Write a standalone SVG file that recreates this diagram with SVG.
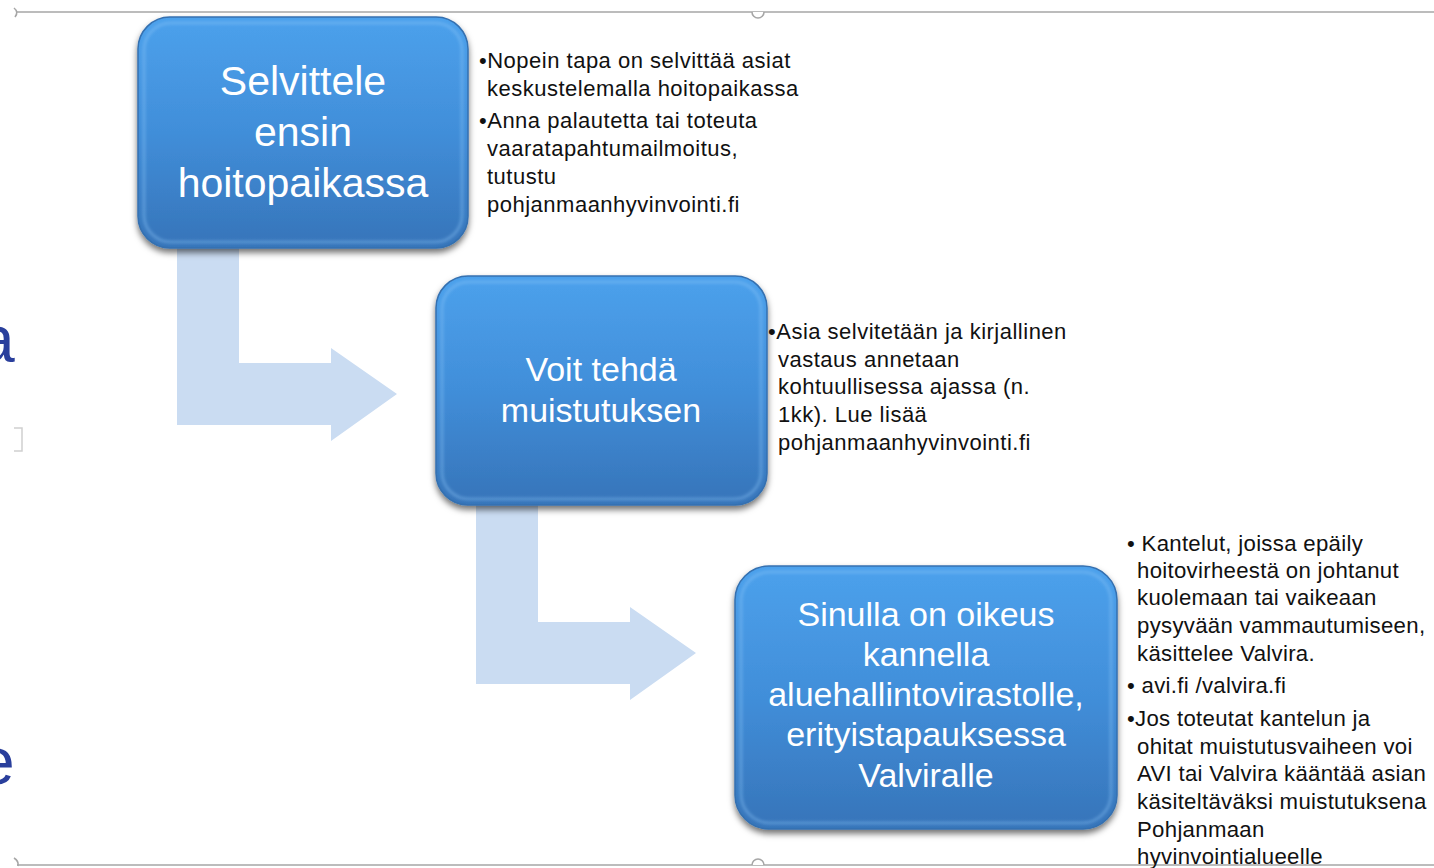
<svg xmlns="http://www.w3.org/2000/svg" width="1434" height="868" viewBox="0 0 1434 868">
<style>
.box{fill:url(#boxGrad);stroke:#3470b0;stroke-width:1.5}
.bevel{fill:none;stroke:#8cc6f7;stroke-opacity:0.4;stroke-width:3}
.btxt{font-family:"Liberation Sans",Arial,sans-serif;fill:#ffffff;text-anchor:middle}
.ntxt{font-family:"Liberation Sans",Arial,sans-serif;fill:#111111;font-size:22px;letter-spacing:0.5px}
.n3{font-size:22.2px;letter-spacing:0.3px}
.arrow{fill:#cadcf2}
.frame{stroke:#a6a6a6;stroke-width:1.6;fill:none}
.side{font-family:"Liberation Sans",Arial,sans-serif;fill:#2a3f9c;font-size:66px}
</style>
<defs>
<linearGradient id="boxGrad" x1="0" y1="0" x2="0" y2="1">
<stop offset="0" stop-color="#4ca1ec"/>
<stop offset="0.5" stop-color="#418ed9"/>
<stop offset="1" stop-color="#3674b9"/>
</linearGradient>
<filter id="shadow" x="-10%" y="-10%" width="120%" height="130%">
<feGaussianBlur in="SourceAlpha" stdDeviation="3"/>
<feOffset dy="4" result="b"/>
<feFlood flood-color="#000" flood-opacity="0.55"/>
<feComposite in2="b" operator="in"/>
<feMerge><feMergeNode/><feMergeNode in="SourceGraphic"/></feMerge>
</filter>
<filter id="soft"><feGaussianBlur stdDeviation="1.5"/></filter>
</defs>
<rect width="1434" height="868" fill="#ffffff"/>

<g id="frame">
<line class="frame" x1="17" y1="12" x2="1434" y2="12"/>
<path class="frame" d="M14 8 Q19 12 15 17"/>
<path d="M752 12 A6 6 0 0 0 764 12" fill="#fff" stroke="#a6a6a6" stroke-width="1.6"/>
<line class="frame" x1="17" y1="865" x2="1434" y2="865"/>
<path class="frame" d="M14 858 Q19 861 18 866"/>
<path d="M752 865 A6 6 0 0 1 764 865" fill="#fff" stroke="#a6a6a6" stroke-width="1.6"/>
<path d="M14 428 H22 V451 H14" fill="none" stroke="#d0d0d0" stroke-width="1.5"/>
<text class="side" x="-22" y="362">a</text>
<text class="side" x="-22" y="784">e</text>
</g>

<g id="connectors">
<path class="arrow" d="M177 240 H239 V363 H331 V348 L397 394 L331 441 V425 H177 Z"/>
<path class="arrow" d="M476 499 H538 V622 H630 V607 L696 653 L630 700 V684 H476 Z"/>
</g>

<g id="node1">
<g filter="url(#shadow)">
<rect class="box" x="138" y="17" width="330" height="231" rx="32"/>
</g>
<rect class="bevel" x="144" y="23" width="318" height="219" rx="27" filter="url(#soft)"/>
<text class="btxt" font-size="41" x="303" y="95">Selvittele</text>
<text class="btxt" font-size="41" x="303" y="146">ensin</text>
<text class="btxt" font-size="41" x="303" y="197">hoitopaikassa</text>
</g>

<g id="node2">
<g filter="url(#shadow)">
<rect class="box" x="436" y="276" width="331" height="229" rx="32"/>
</g>
<rect class="bevel" x="442" y="282" width="319" height="217" rx="27" filter="url(#soft)"/>
<text class="btxt" font-size="34" x="601" y="381">Voit tehdä</text>
<text class="btxt" font-size="34" x="601" y="422">muistutuksen</text>
</g>

<g id="node3">
<g filter="url(#shadow)">
<rect class="box" x="735" y="566" width="382" height="263" rx="34"/>
</g>
<rect class="bevel" x="741" y="572" width="370" height="251" rx="29" filter="url(#soft)"/>
<text class="btxt" font-size="34" x="926" y="626">Sinulla on oikeus</text>
<text class="btxt" font-size="34" x="926" y="666">kannella</text>
<text class="btxt" font-size="34" x="926" y="706">aluehallintovirastolle,</text>
<text class="btxt" font-size="34" x="926" y="746">erityistapauksessa</text>
<text class="btxt" font-size="34" x="926" y="787">Valviralle</text>
</g>

<g id="notes1">
<text class="ntxt" x="479" y="68">•Nopein tapa on selvittää asiat</text>
<text class="ntxt" x="487" y="96">keskustelemalla hoitopaikassa</text>
<text class="ntxt" x="479" y="128">•Anna palautetta tai toteuta</text>
<text class="ntxt" x="487" y="156">vaaratapahtumailmoitus,</text>
<text class="ntxt" x="487" y="184">tutustu</text>
<text class="ntxt" x="487" y="212">pohjanmaanhyvinvointi.fi</text>
</g>

<g id="notes2">
<text class="ntxt" x="768" y="339">•Asia selvitetään ja kirjallinen</text>
<text class="ntxt" x="778" y="367">vastaus annetaan</text>
<text class="ntxt" x="778" y="394">kohtuullisessa ajassa (n.</text>
<text class="ntxt" x="778" y="422">1kk). Lue lisää</text>
<text class="ntxt" x="778" y="450">pohjanmaanhyvinvointi.fi</text>
</g>

<g id="notes3">
<text class="ntxt n3" x="1127" y="551">• Kantelut, joissa epäily</text>
<text class="ntxt n3" x="1137" y="578">hoitovirheestä on johtanut</text>
<text class="ntxt n3" x="1137" y="605">kuolemaan tai vaikeaan</text>
<text class="ntxt n3" x="1137" y="633">pysyvään vammautumiseen,</text>
<text class="ntxt n3" x="1137" y="661">käsittelee Valvira.</text>
<text class="ntxt n3" x="1127" y="693">• avi.fi /valvira.fi</text>
<text class="ntxt n3" x="1127" y="726">•Jos toteutat kantelun ja</text>
<text class="ntxt n3" x="1137" y="754">ohitat muistutusvaiheen voi</text>
<text class="ntxt n3" x="1137" y="781">AVI tai Valvira kääntää asian</text>
<text class="ntxt n3" x="1137" y="809">käsiteltäväksi muistutuksena</text>
<text class="ntxt n3" x="1137" y="837">Pohjanmaan</text>
<text class="ntxt n3" x="1137" y="864">hyvinvointialueelle</text>
</g>
</svg>
